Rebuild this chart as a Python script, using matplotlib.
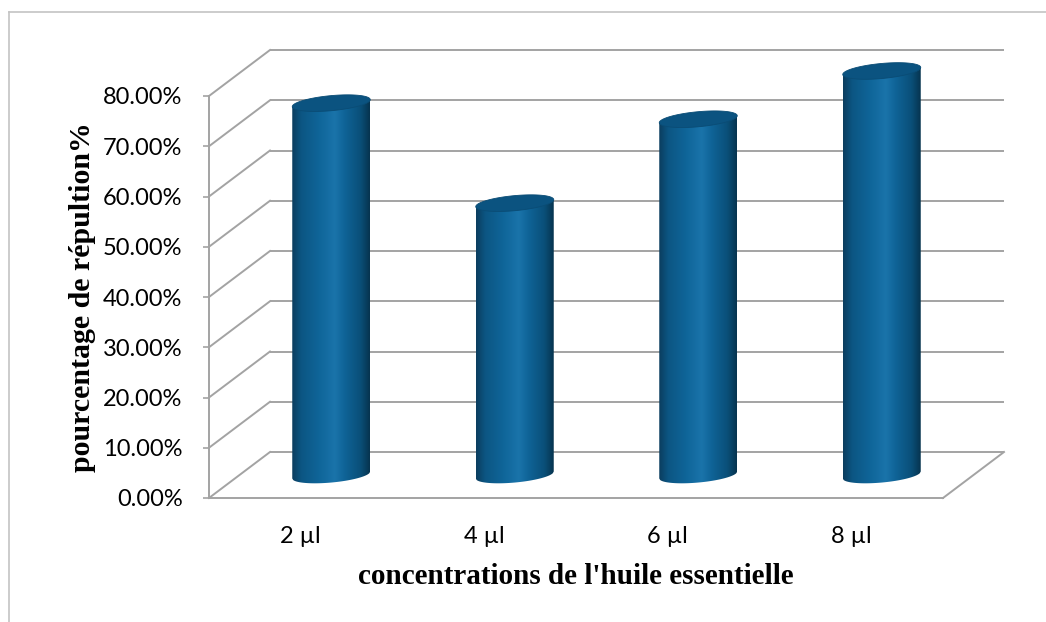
import numpy as np
import matplotlib
matplotlib.use("Agg")
import matplotlib.pyplot as plt
from matplotlib.transforms import offset_copy
from matplotlib.lines import Line2D
from matplotlib.patches import Polygon
from matplotlib.colors import LinearSegmentedColormap
from matplotlib.ticker import PercentFormatter

# data
categories = ["2 µl", "4 µl", "6 µl", "8 µl"]
values = [0.740, 0.541, 0.708, 0.804]
y_ticks = [0.0, 0.1, 0.2, 0.3, 0.4, 0.5, 0.6, 0.7, 0.8]

fig = plt.figure(figsize=(10.46, 6.22), dpi=100)
ax = fig.add_axes([209 / 1046, 124 / 622, 734 / 1046, 402 / 622])

grid_col = "#a3a3a3"
grid_lw = 1.4
xlim = (-0.5, len(categories) - 0.5)

# depth offsets: back wall and mid plane where the cylinders stand
tr_back = offset_copy(ax.transData, fig=fig, x=0.61, y=0.46, units="inches")
tr_mid = offset_copy(ax.transData, fig=fig, x=0.305, y=0.23, units="inches")

# cylinders
cmap = LinearSegmentedColormap.from_list("cyl", [
    (0.0, "#0b3d5e"), (0.12, "#0c5683"), (0.35, "#0f6599"),
    (0.55, "#1a74aa"), (0.68, "#0f6397"), (0.88, "#0a4f78"), (1.0, "#06334f")])
grad = np.linspace(0, 1, 256)[np.newaxis, :]
hw = 0.2125     # half width (category units)
b = 0.0150      # ellipse half height
k = 0.0327      # ellipse tilt
t = np.linspace(-1, 1, 81)
th = np.linspace(0, 2 * np.pi, 160)
for i, v in enumerate(values):
    xe = i + hw * t
    ybot = -b * np.sqrt(1 - t ** 2) + k * hw * t
    ytop = v + k * hw * t
    outline = np.column_stack([np.r_[xe, xe[::-1]], np.r_[ybot, ytop[::-1]]])
    body = Polygon(outline, closed=True, transform=tr_mid)
    im = ax.imshow(grad, cmap=cmap, aspect="auto", interpolation="bilinear",
                   extent=(i - hw, i + hw, -2 * b - k * hw, v + k * hw + b),
                   transform=tr_mid, zorder=3)
    im.set_clip_path(body)
    im.set_clip_box(fig.bbox)
    ax.fill(i + hw * np.cos(th), v + b * np.sin(th) + k * hw * np.cos(th),
            color="#0b5380", ec="#0a4c75", lw=0.6, transform=tr_mid,
            clip_on=False, zorder=4)

ax.set_xlim(*xlim)
ax.set_ylim(0, 0.8)

# back wall gridlines
for v in y_ticks:
    ax.plot(xlim, [v, v], color=grid_col, lw=grid_lw, transform=tr_back,
            clip_on=False, zorder=1, solid_capstyle="butt")

# side wall diagonals and right floor edge
def depth_line(x, y):
    pf = ax.transData.transform((x, y))
    pb = tr_back.transform((x, y))
    W, H = fig.bbox.width, fig.bbox.height
    fig.add_artist(Line2D([pf[0] / W, pb[0] / W], [pf[1] / H, pb[1] / H],
                          color=grid_col, lw=grid_lw, zorder=1))

for v in y_ticks:
    depth_line(xlim[0], v)
depth_line(xlim[1], 0)

# axes styling
for s in ["top", "right"]:
    ax.spines[s].set_visible(False)
for s in ["left", "bottom"]:
    ax.spines[s].set_color(grid_col)
    ax.spines[s].set_linewidth(grid_lw)
ax.patch.set_visible(False)

ax.set_yticks(y_ticks)
ax.yaxis.set_major_formatter(PercentFormatter(xmax=1, decimals=2))
ax.set_xticks(range(len(categories)))
ax.set_xticklabels(categories)
ax.tick_params(axis="y", length=4, width=1.2, color=grid_col, pad=15,
               labelsize=17)
ax.tick_params(axis="x", length=0, pad=20, labelsize=17)
for lab in ax.get_xticklabels() + ax.get_yticklabels():
    lab.set_family("Lato")
    lab.set_color("#000000")

ax.set_xlabel("concentrations de l'huile essentielle", family="Liberation Serif",
              fontweight="bold", fontsize=21, labelpad=12)
ax.set_ylabel("pourcentage de répultion%", family="Liberation Serif",
              fontweight="bold", fontsize=21.5, labelpad=5)

# chart border
fig.add_artist(Line2D([9 / 1046, 1.0], [1 - 12 / 622, 1 - 12 / 622], color="#c4c4c4", lw=1.2))
fig.add_artist(Line2D([9 / 1046, 9 / 1046], [0, 1 - 12 / 622], color="#c4c4c4", lw=1.2))

fig.savefig("out.png", dpi=100)
